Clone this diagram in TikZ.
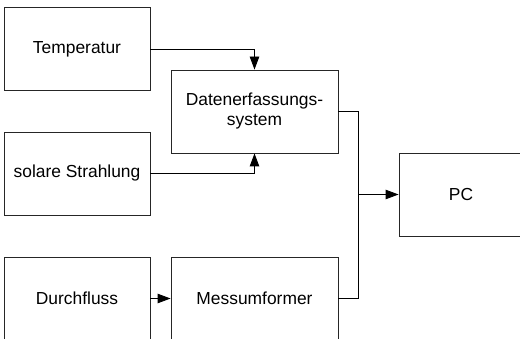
\documentclass[tikz,border=0pt]{standalone}
\usepackage{fontspec}
\setmainfont{Liberation Sans}
\usetikzlibrary{arrows.meta}
\begin{document}
\begin{tikzpicture}[x=1pt,y=-1pt,
  blk/.style={draw=black!85, line width=0.9pt, minimum width=#1, minimum height=83pt, inner sep=0pt, align=center, font=\fontsize{17.4}{20}\selectfont},
  blk/.default=146pt,
  conn/.style={draw=black, line width=0.9pt},
  arr/.style={conn, -{Triangle[length=13pt,width=9.5pt]}}]
\useasboundingbox (0,0) rectangle (520,339);
\clip (0,0) rectangle (520,339);
\node[blk] (temp) at (77,49) {Temperatur};
\node[blk] (sol) at (77,173.5) {solare Strahlung};
\node[blk=167pt] (daten) at (254.5,111.5) {Datenerfassungs-\\system};
\node[blk=124pt] (pc) at (461,194.5) {PC};
\node[blk] (durch) at (77,298.5) {Durchfluss};
\node[blk=167pt] (mess) at (254.5,298.5) {Messumformer};
\coordinate (bus) at (358,111.5);
\draw[arr] (temp.east) -| (daten.north);
\draw[arr] (sol.east) -| (daten.south);
\draw[conn] (daten.east) -- (bus) |- (mess.east);
\draw[arr] (bus |- pc.west) -- (pc.west);
\draw[arr] (durch.east) -- (mess.west);
\end{tikzpicture}
\end{document}
